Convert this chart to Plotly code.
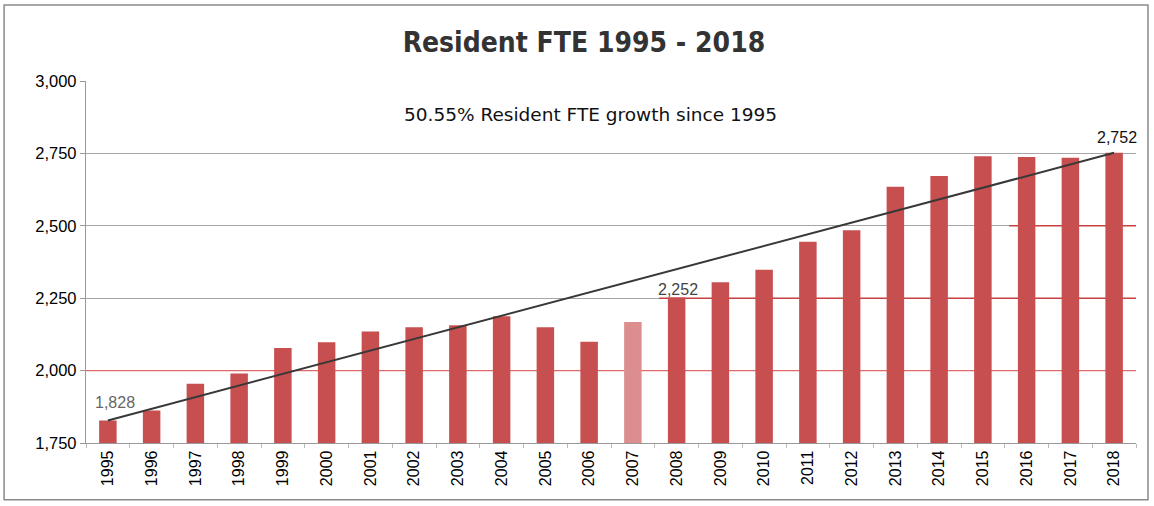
import plotly.graph_objects as go

years = list(range(1995, 2019))
fte = [1828, 1862, 1955, 1990, 2078, 2098, 2135, 2150, 2157, 2188, 2150, 2100,
       2168, 2252, 2305, 2348, 2445, 2485, 2635, 2672, 2740, 2738, 2735, 2752]
highlight_year = 2007
labelled_years = [1995, 2008, 2018]
label_shift_x = [7, 1, 3]
label_shift_y = [18, 8, 15]
label_colors = ["#666666", "#444444", "#111111"]
yticks = [1750, 2000, 2250, 2500, 2750, 3000]
# red overlay lines: (value, first year they start near)
red_line_values = [2000, 2250, 2500]
red_line_starts = [1994.5, 2007.6, 2015.6]
title = "Resident FTE 1995 - 2018"
subtitle = "50.55% Resident FTE growth since 1995"

bar_colors = ["#dc8e8e" if y == highlight_year else "#c84f4f" for y in years]

fig = go.Figure()
fig.add_trace(go.Bar(x=years, y=fte, marker=dict(color=bar_colors, line=dict(width=0)),
                     showlegend=False, hoverinfo="x+y"))

shapes = []
for v, s in zip(red_line_values, red_line_starts):
    shapes.append(dict(type="line", xref="x", yref="y", x0=s, x1=years[-1] + 0.5, y0=v, y1=v,
                       line=dict(color="#e06a6a" if v == 2000 else "#c84040", width=1.4),
                       layer="between"))
shapes.append(dict(type="rect", xref="paper", yref="paper", x0=-0.078, x1=1.0114, y0=-0.157, y1=1.21,
                   line=dict(color="#8a8a8a", width=1.5), fillcolor="rgba(0,0,0,0)", layer="below"))

# trend line from first to last value
fig.add_trace(go.Scatter(x=[years[0], years[-1]], y=[fte[0], fte[-1]], mode="lines",
                         line=dict(color="#383838", width=2), showlegend=False, hoverinfo="skip"))

for yr, dx, dy, c in zip(labelled_years, label_shift_x, label_shift_y, label_colors):
    i = years.index(yr)
    fig.add_annotation(x=yr, y=fte[i], text=f"{fte[i]:,}", showarrow=False,
                       yshift=dy, xshift=dx,
                       font=dict(family="Liberation Sans, Arial", size=16, color=c))

fig.add_annotation(x=0.48, y=2886, xref="paper", yref="y", text=subtitle, showarrow=False,
                   font=dict(family="DejaVu Sans, Liberation Sans", size=18.5, color="#111111"))

fig.update_layout(
    width=1154, height=506,
    paper_bgcolor="white", plot_bgcolor="white",
    margin=dict(l=86, r=18, t=81, b=63),
    title=dict(text=f"<b>{title}</b>", x=0.506, xanchor="center", y=0.917, yanchor="middle",
               font=dict(family="DejaVu Sans Condensed, Liberation Sans", size=28, color="#333333")),
    bargap=0.6,
    xaxis=dict(range=[years[0] - 0.5, years[-1] + 0.5], tickvals=years, ticktext=[str(y) for y in years],
               tickangle=-90, ticks="",
               tickfont=dict(family="Liberation Sans, Arial", size=16, color="#000000"),
               minor=dict(ticks="outside", tick0=years[0] - 0.5, dtick=1, ticklen=4, tickcolor="#bbbbbb"),
               showline=True, linecolor="#999999", linewidth=1.3,
               showgrid=False, zeroline=False),
    yaxis=dict(range=[1750, 3000], tickvals=yticks, tickformat=",",
               tickfont=dict(family="Liberation Sans, Arial", size=16.5, color="#000000"),
               showgrid=True, gridcolor="#a6a6a6", gridwidth=1.3,
               showline=True, linecolor="#999999", linewidth=1.3,
               ticks="outside", ticklen=5, tickcolor="#999999",
               zeroline=False),
    shapes=shapes,
)

fig.write_html("out.html", config={"displayModeBar": False},
               post_script="document.body.style.margin='0';")
